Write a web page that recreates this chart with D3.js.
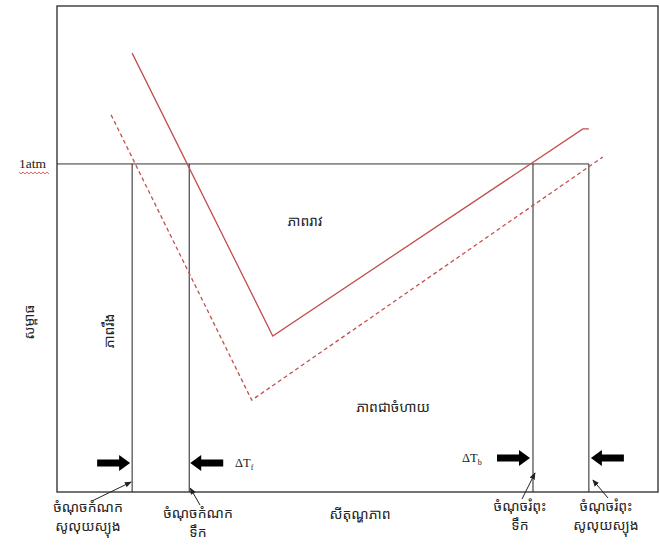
<!DOCTYPE html>
<html><head><meta charset="utf-8">
<script src="https://cdn.jsdelivr.net/npm/d3@7"></script>
<style>
html,body{margin:0;padding:0;background:#fff;}
svg{display:block;}
.kh{font-family:"Noto Sans Khmer","Khmer OS","Noto Sans","DejaVu Sans",sans-serif;font-size:14px;fill:#222;}
.tm{font-family:"Liberation Serif","Times New Roman",serif;fill:#222;}
</style></head>
<body>
<script>
// Data (temperature %, pressure %)
const waterCurve = [[12.5, 90.3], [35.9, 32.1], [87.5, 74.7], [88.5, 74.7]];
const solutionCurve = [[9.0, 77.6], [32.4, 18.9], [90.8, 68.9]];
const oneAtm = 67.5;
const solFreeze = 12.5, waterFreeze = 22.0, waterBoil = 79.2, solBoil = 88.5;
const phaseLabels = ["ភាពរឹង", "ភាពរាវ", "ភាពជាចំហាយ"];
const axisLabels = ["សីតុណ្ហភាព", "សម្ពាធ"];
const pointLabels = [["ចំណុចកំណក","សូលុយស្យុង"],["ចំណុចកំណក","ទឹក"],["ចំណុចរំពុះ","ទឹក"],["ចំណុចរំពុះ","សូលុយស្យុង"]];

const W = 660, H = 556;
const x = d3.scaleLinear().domain([0, 100]).range([57, 658]);
const y = d3.scaleLinear().domain([0, 100]).range([492, 6]);

const svg = d3.select("body").append("svg").attr("width", W).attr("height", H);
svg.append("defs").append("marker").attr("id","ah").attr("viewBox","0 0 10 10")
  .attr("refX",9).attr("refY",5).attr("markerWidth",7).attr("markerHeight",7)
  .attr("orient","auto").append("path").attr("d","M0,1 L10,5 L0,9 Z").attr("fill","#222");

// frame
svg.append("rect").attr("x", x(0)).attr("y", y(100)).attr("width", x(100)-x(0)).attr("height", y(0)-y(100))
  .attr("fill","none").attr("stroke","#444").attr("stroke-width",1.5);

// 1 atm line
svg.append("line").attr("x1", x(0)).attr("x2", x(solBoil)).attr("y1", y(oneAtm)).attr("y2", y(oneAtm))
  .attr("stroke","#333").attr("stroke-width",1);
// verticals
[solFreeze, waterFreeze, waterBoil, solBoil].forEach(v => {
  svg.append("line").attr("x1", x(v)).attr("x2", x(v)).attr("y1", y(oneAtm)).attr("y2", y(0))
    .attr("stroke","#222").attr("stroke-width",1);
});

const line = d3.line().x(d => x(d[0])).y(d => y(d[1]));
svg.append("path").datum(waterCurve).attr("d", line).attr("fill","none").attr("stroke","#c0504d").attr("stroke-width",1.3);
svg.append("path").datum(solutionCurve).attr("d", line).attr("fill","none").attr("stroke","#c0504d")
  .attr("stroke-width",1.3).attr("stroke-dasharray","4,3");

// 1atm label with wavy underline
svg.append("text").attr("class","tm").attr("x", 19).attr("y", y(oneAtm)+4).attr("font-size",13.5).text("1atm");
let wave = "M19," + (y(oneAtm)+8);
for (let i = 0; i < 15; i++) wave += " l2," + (i%2? -2:2);
svg.append("path").attr("d", wave).attr("fill","none").attr("stroke","#e03030").attr("stroke-width",0.8);

// thick arrows
function thick(tipX, yy, dir) { // dir=+1 pointing right, -1 pointing left
  const L = 33, hl = 11, bh = 3.5, hh = 8;
  const pts = [[tipX, yy],[tipX - dir*hl, yy-hh],[tipX - dir*hl, yy-bh],[tipX - dir*L, yy-bh],
               [tipX - dir*L, yy+bh],[tipX - dir*hl, yy+bh],[tipX - dir*hl, yy+hh]];
  svg.append("polygon").attr("points", pts.map(p=>p.join(",")).join(" ")).attr("fill","#000");
}
thick(x(solFreeze)-2, 463, 1);
thick(x(waterFreeze)+1, 463, -1);
thick(x(waterBoil)-3, 458, 1);
thick(x(solBoil)+2, 458, -1);

// delta labels
function delta(xx, yy, sub) {
  const t = svg.append("text").attr("class","tm").attr("x", xx).attr("y", yy).attr("font-size",12.5);
  t.append("tspan").text("ΔT");
  t.append("tspan").attr("font-size",8).attr("dy",3).text(sub);
}
delta(235, 467, "f");
delta(462, 462, "b");

// thin arrows from labels
function thin(x1, y1, x2, y2) {
  svg.append("line").attr("x1",x1).attr("y1",y1).attr("x2",x2).attr("y2",y2)
    .attr("stroke","#222").attr("stroke-width",1).attr("marker-end","url(#ah)");
}
thin(92, 501, x(solFreeze)-1, 482);
thin(200, 505, x(waterFreeze)+1, 488);
thin(522, 499, x(waterBoil)+2, 473);
thin(608, 498, x(solBoil)+4, 480);

// point labels
const lblPos = [[88, 512], [198, 518], [520, 511], [606, 511]];
pointLabels.forEach((lb, i) => {
  const [cx, cy] = lblPos[i];
  lb.forEach((s, j) => {
    svg.append("text").attr("class","kh").attr("x", cx).attr("y", cy + j*19)
      .attr("text-anchor","middle").text(s);
  });
});

// axis labels
svg.append("text").attr("class","kh").attr("font-size",15).attr("x", 360).attr("y", 519).attr("text-anchor","middle").text(axisLabels[0]);
svg.append("text").attr("class","kh").attr("transform","translate(34,322) rotate(-90)").attr("text-anchor","middle").text(axisLabels[1]);

// phase labels
svg.append("text").attr("class","kh").attr("transform","translate(114,331) rotate(-90)").attr("text-anchor","middle").text(phaseLabels[0]);
svg.append("text").attr("class","kh").attr("x", 305).attr("y", 226).attr("text-anchor","middle").text(phaseLabels[1]);
svg.append("text").attr("class","kh").attr("font-size",15).attr("x", 393).attr("y", 412).attr("text-anchor","middle").text(phaseLabels[2]);
</script>
</body></html>
